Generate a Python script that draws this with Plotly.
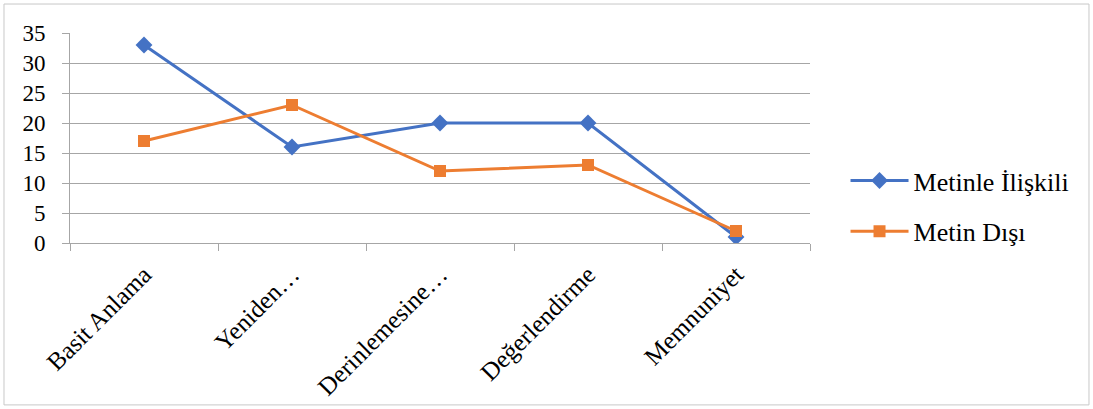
import plotly.graph_objects as go

categories = ["Basit Anlama", "Yeniden…", "Derinlemesine…", "Değerlendirme", "Memnuniyet"]
metinle_iliskili = [33, 16, 20, 20, 1]
metin_disi = [17, 23, 12, 13, 2]
y_ticks = [0, 5, 10, 15, 20, 25, 30, 35]

FONT = "Liberation Serif, Times New Roman, serif"
GRID = "#a6a6a6"

fig = go.Figure()
fig.add_trace(go.Scatter(
    x=categories, y=metinle_iliskili, name="Metinle İlişkili",
    mode="lines+markers", legendgroup="a",
    line=dict(color="#4472C4", width=3),
    marker=dict(symbol="diamond", size=13, color="#4472C4"),
))
fig.add_trace(go.Scatter(
    x=categories, y=metin_disi, name="Metin Dışı",
    mode="lines+markers", legendgroup="b",
    line=dict(color="#ED7D31", width=3),
    marker=dict(symbol="square", size=12, color="#ED7D31"),
))

fig.update_layout(
    width=1093, height=409,
    margin=dict(l=70, r=283, t=33, b=166),
    paper_bgcolor="white", plot_bgcolor="white",
    font=dict(family=FONT, size=24, color="black"),
    legend=dict(x=1.048, y=0.176, xanchor="left", yanchor="middle",
                font=dict(family=FONT, size=26), tracegroupgap=14,
                itemwidth=58, bgcolor="rgba(0,0,0,0)"),
    showlegend=True,
)
fig.update_xaxes(
    type="category", tickson="boundaries", ticks="outside", ticklen=7,
    tickcolor=GRID, showline=True, linecolor=GRID, linewidth=1,
    showgrid=False, tickangle=-45, tickfont=dict(family=FONT, size=25),
    range=[-0.5, 4.5], automargin=False, ticklabelstandoff=6,
)
fig.update_yaxes(
    range=[0, 35], tickvals=y_ticks, ticks="outside", ticklen=7,
    tickcolor=GRID, showline=True, linecolor=GRID, linewidth=1,
    showgrid=True, gridcolor=GRID, gridwidth=1, zeroline=False,
    tickfont=dict(family=FONT, size=23), automargin=False,
    ticklabelstandoff=12,
)
fig.add_shape(type="rect", xref="paper", yref="paper",
              x0=-0.0892, x1=1.377, y0=-0.771, y1=1.138,
              line=dict(color="#c8c8c8", width=1), fillcolor="rgba(0,0,0,0)",
              layer="below")

fig.write_html("out.html", config={"displayModeBar": False},
               post_script="document.body.style.margin='0';")
